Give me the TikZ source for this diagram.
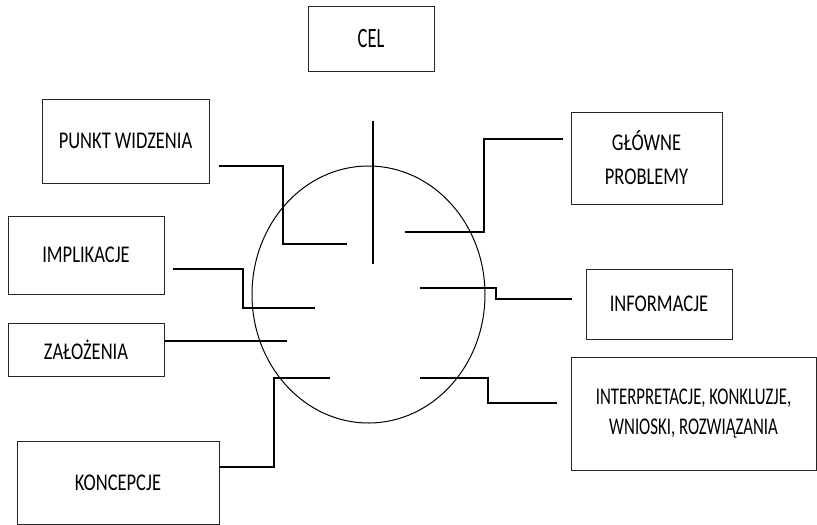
\documentclass[tikz,border=0pt]{standalone}
\usepackage{fontspec}
\setmainfont{Carlito}[FakeStretch=0.77]
\newfontfamily\celfont{Carlito}[FakeStretch=0.66]
\newfontfamily\intfont{Carlito}[FakeStretch=0.70]
\begin{document}
\begin{tikzpicture}[x=1pt,y=-1pt,
  box/.style={draw=black!85, line width=0.9pt, inner sep=0pt, align=center,
    font=\fontsize{24}{34}\selectfont},
  conn/.style={draw=black, line width=1.4pt},
  ring/.style={draw=black, line width=1pt}]
\useasboundingbox (0,0) rectangle (817,525);
% boxes
\node[box, minimum width=126pt, minimum height=65pt,
  font=\fontsize{28}{34}\celfont] (cel) at (371,38.5) {CEL};
\node[box, minimum width=167pt, minimum height=84pt] (pw) at (125.5,141) {PUNKT WIDZENIA};
\node[box, minimum width=156pt, minimum height=78pt] (impl) at (86,255) {IMPLIKACJE};
\node[box, minimum width=156pt, minimum height=53pt] (zal) at (86,349.5) {ZAŁOŻENIA};
\node[box, minimum width=202pt, minimum height=83pt] (konc) at (118,482.5) {KONCEPCJE};
\node[box, minimum width=151pt, minimum height=92pt] (gp) at (646.5,158) {GŁÓWNE\\PROBLEMY};
\node[box, minimum width=146pt, minimum height=70pt] (inf) at (659,304) {INFORMACJE};
\node[box, minimum width=245pt, minimum height=113pt,
  font=\fontsize{24}{30}\intfont] (int) at (693.5,413.5) {INTERPRETACJE, KONKLUZJE,\\WNIOSKI, ROZWIĄZANIA};
% circle
\draw[ring] (368.5,294.5) ellipse [x radius=116.5, y radius=128.5];
% vertical line
\coordinate (vt) at (373,121);
\coordinate (vb) at (373,264);
\draw[line width=1.2pt] (vt) -- (vb);
% connector end points and bends
\coordinate (pwa) at (219,166);  \coordinate (pwb) at (283,205);  \coordinate (pwc) at (347,244);
\coordinate (ima) at (173,269);  \coordinate (imb) at (243,290);  \coordinate (imc) at (315,308);
\coordinate (zaa) at (165,341);  \coordinate (zac) at (287,341);
\coordinate (koa) at (219,467);  \coordinate (kob) at (274,420);  \coordinate (koc) at (330,378);
\coordinate (gpa) at (405,232);  \coordinate (gpb) at (484,185);  \coordinate (gpc) at (563,139);
\coordinate (ina) at (420,288);  \coordinate (inb) at (496,293);  \coordinate (inc) at (572,299);
\coordinate (ita) at (420,378);  \coordinate (itb) at (488,390);  \coordinate (itc) at (557,403);
% connectors
\draw[conn] (pwa) -| (pwb) |- (pwc);
\draw[conn] (ima) -| (imb) |- (imc);
\draw[conn] (zaa) -- (zac);
\draw[conn] (koa) -| (kob) |- (koc);
\draw[conn] (gpa) -| (gpb) |- (gpc);
\draw[conn] (ina) -| (inb) |- (inc);
\draw[conn] (ita) -| (itb) |- (itc);
\end{tikzpicture}
\end{document}
